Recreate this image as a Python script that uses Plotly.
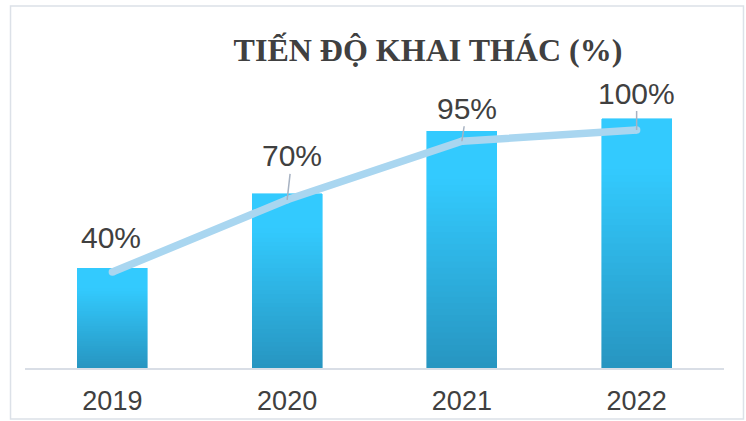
import plotly.graph_objects as go

years = ["2019", "2020", "2021", "2022"]
bar_values = [40, 70, 95, 100]
line_values = [38.5, 67.5, 91, 95.5]
label_texts = ["40%", "70%", "95%", "100%"]
title_text = "TIẾN ĐỘ KHAI THÁC (%)"

# label offsets (pixels) relative to the line point, and whether a leader line is shown
label_dx = [-1, 5, 5, 0]
label_dy = [-35, -44, -33, -37]
show_leader = [False, True, True, True]

# gradient colors
BRIGHT = (0x33, 0xCA, 0xFE)
DARK = (0x27, 0x95, 0xC0)
N = 40


def lerp_color(f):
    t = min(1.0, f / 0.8)
    r = round(DARK[0] + (BRIGHT[0] - DARK[0]) * t)
    g = round(DARK[1] + (BRIGHT[1] - DARK[1]) * t)
    b = round(DARK[2] + (BRIGHT[2] - DARK[2]) * t)
    return f"rgb({r},{g},{b})"


fig = go.Figure()

for i in range(N):
    c = lerp_color((i + 0.5) / N)
    fig.add_trace(go.Bar(
        x=years,
        y=[v / N for v in bar_values],
        marker=dict(color=c, line=dict(color=c, width=0.6)),
        hoverinfo="skip",
        showlegend=False,
    ))

fig.add_trace(go.Scatter(
    x=years,
    y=line_values,
    mode="lines+markers",
    line=dict(color="#A9D6F0", width=7.5),
    marker=dict(color="#A9D6F0", size=7.5),
    hoverinfo="skip",
    showlegend=False,
))

annotations = []
for idx, (lv, txt, dx, dy, sl) in enumerate(zip(line_values, label_texts, label_dx, label_dy, show_leader)):
    base = dict(
        x=idx, y=lv, xref="x", yref="y", text=txt,
        font=dict(family="Liberation Sans, Arial", size=30, color="#404040"),
    )
    if sl:
        base.update(showarrow=True, arrowhead=0, arrowwidth=1.5, arrowcolor="#A7B2C2",
                    ax=dx, ay=dy, standoff=0)
    else:
        base.update(showarrow=False, xshift=dx, yshift=-dy)
    annotations.append(base)

# chart border (paper coordinates based on plot area 700 x 299 px)
L, R, T, B = 24.5, 21.5, 69, 53
PW, PH = 746 - L - R, 421 - T - B

def px_x(px):
    return (px - L) / PW

def px_y(py):
    return (421 - B - py) / PH

fig.update_layout(
    width=746, height=421,
    margin=dict(l=L, r=R, t=T, b=B, autoexpand=False),
    paper_bgcolor="white", plot_bgcolor="white",
    barmode="stack", bargap=0.6,
    title=dict(
        text=f"<b>{title_text}</b>",
        x=428 / 746, xanchor="center", xref="container",
        y=1 - 50 / 421, yanchor="middle", yref="container",
        font=dict(family="Liberation Serif, Times New Roman", size=32, color="#404040"),
    ),
    xaxis=dict(
        type="category", range=[-0.5, len(years) - 0.5], automargin=False,
        showgrid=False, zeroline=False,
        showline=True, linecolor="#D9DEE6", linewidth=1.5,
        ticks="outside", ticklen=8, tickcolor="rgba(0,0,0,0)",
        tickfont=dict(family="Liberation Sans, Arial", size=27, color="#404040"),
        fixedrange=True,
    ),
    yaxis=dict(
        range=[0, 120], visible=False, fixedrange=True,
    ),
    annotations=annotations,
    shapes=[dict(
        type="rect", xref="paper", yref="paper",
        x0=px_x(10), x1=px_x(744), y0=px_y(419), y1=px_y(6),
        line=dict(color="#DCE1E8", width=1.5), fillcolor="rgba(0,0,0,0)",
        layer="below",
    )],
)

fig.write_html("out.html")
